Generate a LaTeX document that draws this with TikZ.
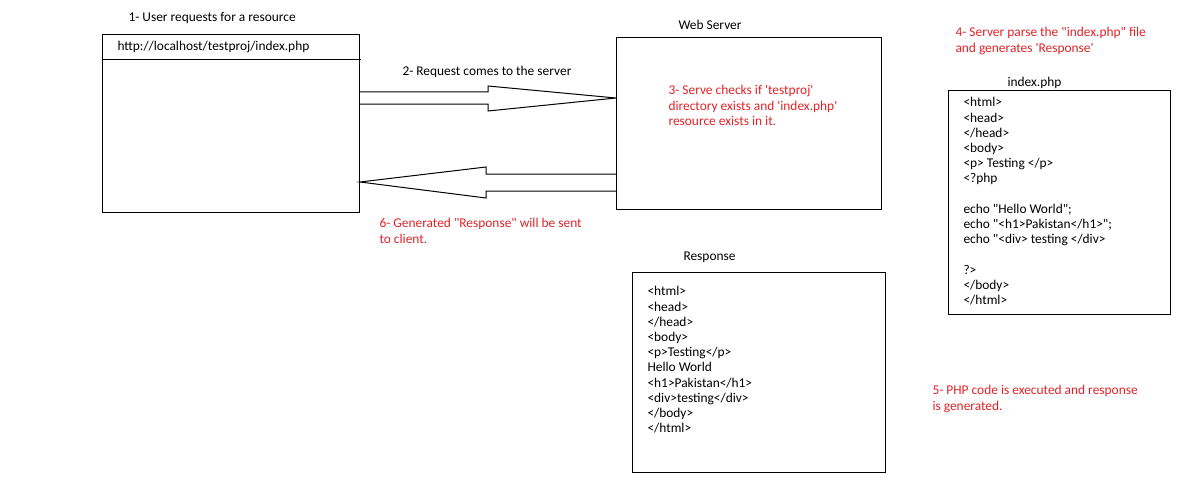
\documentclass[tikz,border=0pt]{standalone}
\usepackage{fontspec}
\setmainfont{Carlito}
\definecolor{pred}{RGB}{225,35,40}
\newcommand\sq{\textquotesingle}
\newcommand\dq{\textquotedbl}
\begin{document}
\begin{tikzpicture}[x=1pt,y=-1pt,line width=1pt,
  box/.style={draw,line width=1pt,inner sep=0,anchor=north west},
  lbl/.style={inner sep=0,anchor=west,font=\fontsize{13.4}{15.2}\selectfont},
  blk/.style={inner sep=0,anchor=north west,align=left,font=\fontsize{13.4}{15.2}\selectfont},
  rtxt/.style={text=pred}]
\useasboundingbox[fill=white] (0,0) rectangle (1192,503);

% client
\node[lbl] (l1) at (128,18) {1- User requests for a resource};
\node[box,minimum width=257pt,minimum height=178pt] (client) at (102,34) {};
\node[lbl] (url) at (117,47) {http://localhost/testproj/index.php};
\draw (client.west |- 0,60) -- (361,60);

% server
\node[lbl] (ws) at (678,25) {Web Server};
\node[box,minimum width=265pt,minimum height=172pt] (server) at (616,37) {};
\node[blk,rtxt] (l3) at (668,85) {3- Serve checks if \sq testproj\sq\\directory exists and \sq index.php\sq\\resource exists in it.};

% arrows
\node[lbl] (l2) at (402,72) {2- Request comes to the server};
\draw (client.east |- 0,92) -- (488,92) -- (488,86) -- (server.west |- 0,98) -- (488,111) -- (488,104) -- (client.east |- 0,104);
\draw (server.west |- 0,174) -- (486,174) -- (486,167) -- (client.east |- 0,182) -- (486,198) -- (486,191) -- (server.west |- 0,191);
\node[blk,rtxt] (l6) at (379,218) {6- Generated \dq Response\dq\ will be sent\\to client.};

% index.php
\node[blk,rtxt] (l4) at (955,27) {4- Server parse the \dq index.php\dq\ file\\and generates \sq Response\sq};
\node[lbl] (ip) at (1007,83) {index.php};
\node[box,minimum width=222pt,minimum height=224pt] (index) at (948,90) {};
\node[blk] (code) at (963,97) {<html>\\<head>\\</head>\\<body>\\<p> Testing </p>\\<?php\\\mbox{}\\echo \dq Hello World\dq;\\echo \dq<h1>Pakistan</h1>\dq;\\echo \dq<div> testing </div>\\\mbox{}\\?>\\</body>\\</html>};

% response
\node[lbl] (rl) at (683,257) {Response};
\node[box,minimum width=253pt,minimum height=200pt] (resp) at (632,272) {};
\node[blk] (out) at (647,286) {<html>\\<head>\\</head>\\<body>\\<p>Testing</p>\\Hello World\\<h1>Pakistan</h1>\\<div>testing</div>\\</body>\\</html>};

\node[blk,rtxt] (l5) at (932,385) {5- PHP code is executed and response\\is generated.};
\end{tikzpicture}
\end{document}
